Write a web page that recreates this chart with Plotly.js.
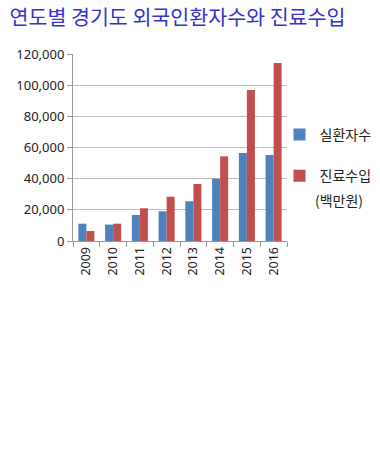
<!DOCTYPE html>
<html><head><meta charset="utf-8">
<script src="https://cdn.plot.ly/plotly-3.0.1.min.js"></script>
<style>html,body{margin:0;padding:0;background:#fff}#chart{width:380px;height:463px}</style>
</head><body><div id="chart"></div>
<script>
const years = ['2009','2010','2011','2012','2013','2014','2015','2016'];
const patients = [11100, 10500, 16700, 19100, 25500, 40000, 56500, 55200];
const revenue = [6400, 11100, 21000, 28400, 36600, 54300, 96900, 114200];
const seriesNames = ['실환자수', '진료수입'];
const unitNote = '(백만원)';
const yTicks = [0, 20000, 40000, 60000, 80000, 100000, 120000];

const font = 'Noto Sans CJK KR, Noto Sans, sans-serif';
const numFont = 'Noto Sans, sans-serif';
const data = [
  {type:'bar', x:years, y:patients, name:seriesNames[0], marker:{color:'#4F81BD'}, legendgroup:'a'},
  {type:'bar', x:years, y:revenue, name:seriesNames[1], marker:{color:'#C0504D'}, legendgroup:'b'}
];
const layout = {
  width:380, height:463,
  margin:{l:73, r:93, t:54, b:222, autoexpand:false},
  paper_bgcolor:'#fff', plot_bgcolor:'#fff',
  font:{family:font, size:14, color:'#222'},
  title:{text:'연도별 경기도 외국인환자수와 진료수입', x:0.025, xanchor:'left', y:0.962, yanchor:'middle',
         font:{family:font, size:20.6, color:'#3333CC'}},
  barmode:'group', bargap:0.4, bargroupgap:0,
  showlegend:true,
  legend:{x:0.965, xanchor:'left', y:0.653, yanchor:'top', valign:'middle', tracegroupgap:20,
          bgcolor:'rgba(0,0,0,0)',
          font:{family:font, size:14, color:'#222'}, itemwidth:30, traceorder:'grouped'},
  annotations:[{text:unitNote, xref:'paper', yref:'paper', x:1.12, xanchor:'left', y:(241-200)/187, yanchor:'middle',
                showarrow:false, font:{family:font, size:14, color:'#222'}}],
  xaxis:{type:'category', tickangle:-90, ticks:'outside', ticklen:5, tickcolor:'#999', tickson:'boundaries',
         showline:true, linecolor:'#999', linewidth:1, showgrid:false,
         tickfont:{family:numFont, size:12.5, color:'#222'}},
  yaxis:{range:[0,120000], tickvals:yTicks, tickformat:',d', ticks:'outside', ticklen:5, tickcolor:'#999',
         showline:true, linecolor:'#999', showgrid:true, gridcolor:'#BDBDBD', zeroline:false,
         tickfont:{family:numFont, size:13, color:'#222'}}
};
Plotly.newPlot('chart', data, layout, {displayModeBar:false, staticPlot:true});
</script></body></html>
